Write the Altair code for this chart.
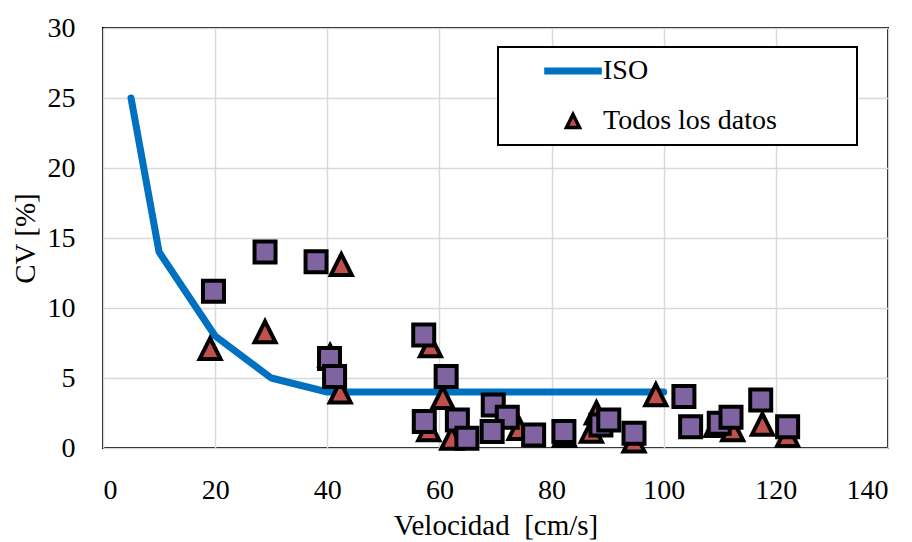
import altair as alt
import pandas as pd

FONT = "Liberation Serif"

# ISO reference curve
iso_x = [5, 10, 20, 30, 40, 50, 60, 70, 80, 90, 100]
iso_y = [25, 14, 8, 5, 4, 4, 4, 4, 4, 4, 4]

# "Todos los datos" (triangles)
tri_x = [19.1, 28.9, 42.5, 40.5, 42.3, 58.4, 60.6, 58.1, 62.2, 74.2, 82.3,
         88.0, 87.1, 94.7, 98.6, 109.3, 112.3, 117.6, 122.1]
tri_y = [7.1, 8.3, 13.1, 6.6, 4.0, 7.3, 3.6, 1.3, 0.7, 1.4, 0.9,
         2.5, 1.2, 0.5, 3.8, 1.6, 1.3, 1.7, 0.9]

# second data set (squares, not in legend)
sq_x = [19.7, 28.9, 38.0, 40.4, 41.3, 57.2, 61.2, 57.3, 63.2, 64.9, 69.6, 72.1,
        69.4, 76.8, 82.2, 88.8, 90.2, 94.7, 103.6, 104.8, 109.9, 112.0, 117.3, 122.1]
sq_y = [11.2, 14.0, 13.3, 6.4, 5.1, 8.07, 5.1, 1.9, 2.0, 0.7, 3.07, 2.2,
        1.17, 0.93, 1.17, 1.64, 2.0, 1.05, 3.67, 1.52, 1.76, 2.2, 3.43, 1.52]

x_ticks = [0, 20, 40, 60, 80, 100, 120, 140]
y_ticks = [0, 5, 10, 15, 20, 25, 30]
series = ["ISO", "Todos los datos"]

iso_df = pd.DataFrame({"x": iso_x, "y": iso_y, "serie": "ISO"})
tri_df = pd.DataFrame({"x": tri_x, "y": tri_y, "serie": "Todos los datos"})
sq_df = pd.DataFrame({"x": sq_x, "y": sq_y})

NB = "\u00a0"
ZW = "\u200b"

xenc = alt.X("x:Q", scale=alt.Scale(domain=[0, 140], nice=False, zero=False),
             axis=alt.Axis(values=x_ticks, title="Velocidad" + NB + " [cm/s]"))
yenc = alt.Y("y:Q", scale=alt.Scale(domain=[0, 30], nice=False),
             axis=alt.Axis(values=y_ticks, title="CV [%]"))

TRI = "M0,-1L1,1L-1,1Z"
LINE_SYM = "M-3.6,0L3.6,0"

leg = alt.Legend(
    orient="none", legendX=395, legendY=19, title=None,
    labelFont=FONT, labelFontSize=28, labelColor="black", labelLimit=0,
    padding=10, rowPadding=22, symbolOffset=51, labelOffset=16,
    symbolSize={"expr": "datum.value === 'ISO' ? 256 : 170"},
    symbolStrokeWidth={"expr": "datum.value === 'ISO' ? 7 : 3.5"},
    symbolFillColor="#c0504d",
    symbolOpacity=1,
    labelExpr="datum.label == 'ISO' ? 'ISO' : datum.label + '" + NB * 10 + ZW + "'",
)

line = alt.Chart(iso_df).mark_line(
    color="#0070c0", strokeWidth=7, strokeCap="round", strokeJoin="round"
).encode(x=xenc, y=yenc)

tri = alt.Chart(tri_df).mark_point(
    filled=True, size=441, opacity=1, strokeWidth=4, strokeJoin="miter", strokeCap="round"
).encode(
    x=xenc, y=yenc,
    fill=alt.value("#c0504d"),
    shape=alt.Shape("serie:N", scale=alt.Scale(domain=series, range=[LINE_SYM, TRI]), legend=leg),
    stroke=alt.Stroke("serie:N", scale=alt.Scale(domain=series, range=["#0070c0", "black"]), legend=leg),
)

sq = alt.Chart(sq_df).mark_square(
    size=441, fill="#8064a2", stroke="black", strokeWidth=4,
    opacity=1, fillOpacity=1, strokeOpacity=1
).encode(x=xenc, y=yenc)

chart = alt.layer(line, tri, sq).properties(
    width=785, height=420,
    autosize="none",
    padding={"left": 103, "top": 28, "right": 24, "bottom": 94},
    background="white",
).configure_view(
    stroke="black", strokeWidth=2
).configure_axis(
    grid=True, gridColor="#d9d9d9", gridWidth=1.5,
    domain=False, ticks=False,
    labelFont=FONT, labelFontSize=28, labelColor="black",
    titleFont=FONT, titleFontSize=29, titleColor="black", titleFontWeight="normal",
).configure_axisX(
    labelPadding=28, titlePadding=7
).configure_axisY(
    labelPadding=28, titlePadding=7
).configure_legend(
    strokeColor="black", strokeWidth=2, fillColor="white"
)

chart.save("out.html", embed_options={"renderer": "svg", "actions": False})
